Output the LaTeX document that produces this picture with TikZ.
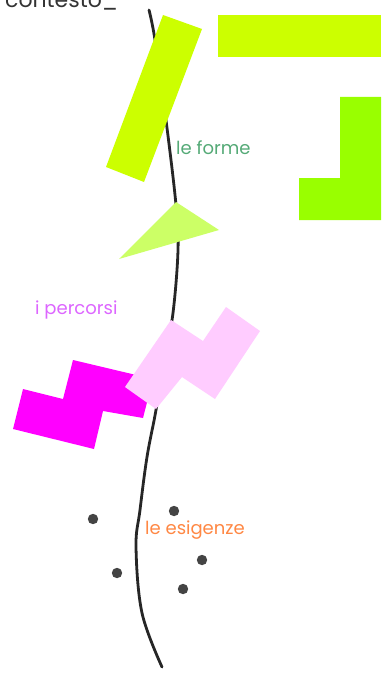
\documentclass[tikz,border=0pt]{standalone}
\usepackage{fontspec}
\setmainfont{Poppins}
\definecolor{giallino}{HTML}{CCFF00}
\definecolor{verdino}{HTML}{99FF00}
\definecolor{verdechiaro}{HTML}{CCFF66}
\definecolor{rosino}{HTML}{FFCCFF}
\definecolor{magenta}{HTML}{FF00FF}
\definecolor{testoforme}{HTML}{55AA77}
\definecolor{testopercorsi}{HTML}{DD66FF}
\definecolor{testoesigenze}{HTML}{FF8844}
\definecolor{punto}{HTML}{444444}
\begin{document}
\begin{tikzpicture}[x=1pt,y=-1pt,
  etichetta/.style={anchor=west,inner sep=0pt,font=\fontsize{18}{20}\selectfont},
  pallino/.style={fill=punto,draw=none}]
\clip(0,0) rectangle (381,674);
\fill[white](0,0) rectangle (381,674);
% il filo
\draw[line width=2.8pt,color=black!85,line cap=round] plot[smooth,tension=0.6] coordinates
  {(149,10) (155,40) (166,120) (176,205) (178,250) (173,313) (165,355) (156,410) (147,457) (140,510) (136,547) (142,613) (162,667)};
\node[anchor=base west,inner sep=0pt,color=black!80,font=\fontsize{22}{24}\selectfont] (contesto) at (5,8) {contesto\_};
% le forme
\fill[giallino](163,15)--(202,29)--(144,182)--(106,167)--cycle;
\fill[giallino](218,15) rectangle (381,57);
\fill[verdino](340,97)--(381,97)--(381,220)--(299,220)--(299,178)--(340,178)--cycle;
\fill[verdechiaro](176,202)--(219,230)--(119,259)--cycle;
\node[etichetta,color=testoforme] (forme) at (176,148) {le forme};
% i percorsi
\fill[magenta](73,360)--(153,379)--(143,418)--(103,411)--(94,449)--(13,429)--(23,389)--(63,399)--cycle;
\fill[rosino](171,320)--(203,341)--(226,307)--(260,331)--(215,399)--(182,377)--(156,409)--(125,387)--cycle;
\node[etichetta,color=testopercorsi] (percorsi) at (35,310) {i percorsi};
% le esigenze
\node[etichetta,color=testoesigenze] (esigenze) at (145,530) {le esigenze};
\foreach \p/\q in {93/519,174/511,202/560,117/573,183/589}
  \fill[pallino](\p,\q) circle (5.2);
\end{tikzpicture}
\end{document}
